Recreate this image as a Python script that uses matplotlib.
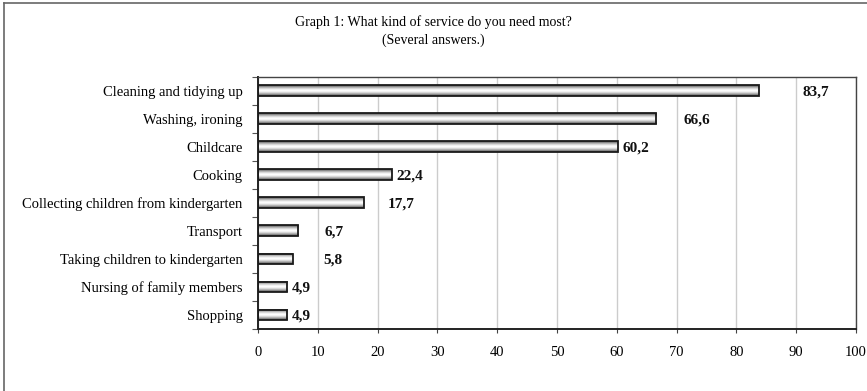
import numpy as np
import matplotlib.pyplot as plt
from matplotlib.lines import Line2D

plt.rcParams['font.family'] = ['Liberation Serif', 'DejaVu Serif']

# data, top to bottom
categories = ['Cleaning and tidying up', 'Washing, ironing', 'Childcare', 'Cooking',
              'Collecting children from kindergarten', 'Transport',
              'Taking children to kindergarten', 'Nursing of family members', 'Shopping']
values = [83.7, 66.6, 60.2, 22.4, 17.7, 6.7, 5.8, 4.9, 4.9]
value_labels = ['83,7', '66,6', '60,2', '22,4', '17,7', '6,7', '5,8', '4,9', '4,9']
# label offsets to the right of bar end (data units), as in the original layout
label_offsets = [7.3, 4.6, 0.8, 0.7, 4.0, 4.5, 5.2, 0.7, 0.7]

fig = plt.figure(figsize=(8.67, 3.91), dpi=100)
ax = fig.add_axes([258/867, 1 - 329/391, (856-258)/867, (329-76.5)/391])

n = len(categories)
ypos = np.arange(n)[::-1]
bar_h = 0.38

# cylinder-like shading for the bars
t = np.linspace(-1, 1, 60)
shade = 1 - 0.75 * np.abs(t) ** 1.6
grad = shade.reshape(-1, 1)

for y, v in zip(ypos, values):
    ax.imshow(grad, cmap='gray', vmin=0, vmax=1, aspect='auto',
              extent=(0, v, y - bar_h/2, y + bar_h/2), zorder=2, interpolation='bilinear')
ax.barh(ypos, values, height=bar_h, fill=False, edgecolor='#1a1a1a', linewidth=1.3, zorder=3)

for y, v, lab, off in zip(ypos, values, value_labels, label_offsets):
    ax.text(v + off, y - 0.04, lab, va='center', ha='left', fontsize=11, fontweight='bold', color='#111')

ax.set_xlim(0, 100)
ax.set_ylim(-0.5, n - 0.5)
ax.set_xticks(np.arange(0, 101, 10))
ax.tick_params(axis='x', length=3, pad=9, labelsize=10.5, color='#444')

# ticks at category boundaries, labels at centres
ax.set_yticks(np.arange(-0.5, n, 1))
ax.set_yticklabels([])
ax.tick_params(axis='y', which='major', length=4, color='#555')
ax.set_yticks(ypos, minor=True)
ax.set_yticklabels(categories, minor=True)
ax.tick_params(axis='y', which='minor', length=0, pad=11, labelsize=10.5)

ax.grid(axis='x', color='#cccccc', linewidth=1, zorder=0)
ax.set_axisbelow(True)
for s in ['left', 'bottom']:
    ax.spines[s].set_linewidth(1.4)
    ax.spines[s].set_color('#222')
for s in ['top', 'right']:
    ax.spines[s].set_linewidth(1.0)
    ax.spines[s].set_color('#444')

fig.text(0.5, 1 - 22/391, 'Graph 1: What kind of service do you need most?', ha='center', va='center', fontsize=10)
fig.text(0.5, 1 - 40/391, '(Several answers.)', ha='center', va='center', fontsize=10)

# outer chart frame (only top and left edges are visible in the original)
fig.add_artist(Line2D([4/867, 4/867], [0, 1 - 3/391], transform=fig.transFigure, color='#666', linewidth=1.2))
fig.add_artist(Line2D([4/867, 1], [1 - 3/391, 1 - 3/391], transform=fig.transFigure, color='#666', linewidth=1.2))

fig.savefig('out.png', dpi=100)
